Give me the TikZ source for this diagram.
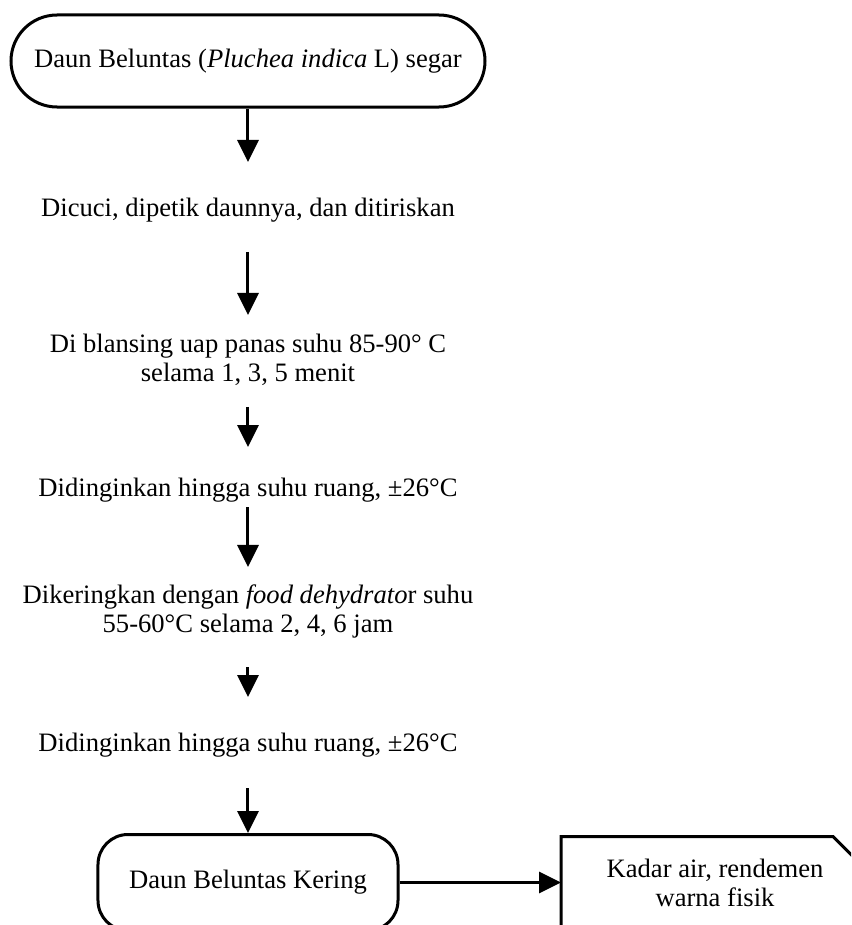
\documentclass[tikz,border=0pt]{standalone}
\usepackage{fontspec}
\setmainfont{Liberation Serif}
\usetikzlibrary{arrows.meta,calc}
\tikzset{
	terminal/.style={
			draw, line width=1.5pt, rounded corners=#1,
			align=center, inner sep=0pt
		},
	langkah/.style={align=center, inner sep=0pt},
	alir/.style={
			line width=1.5pt,
			-{Triangle[length=11pt,width=10.5pt]}
		}
}

\begin{document}
\begin{tikzpicture}[font=\fontsize{13.3pt}{14.5pt}\selectfont]
        \useasboundingbox (0, 0) rectangle (14.955, -16.255);
        \clip (0, 0) rectangle (14.955, -16.255);
        \node[terminal=23pt, minimum width=237pt, minimum height=46pt] (daun_segar) at (4.358, -1.072) {Daun Beluntas (\textit{Pluchea indica} L) segar};
        \node[langkah] (cuci) at (4.358, -3.690) {Dicuci, dipetik daunnya, dan ditiriskan};
        \node[langkah] (blansing) at (4.358, -6.326) {Di blansing uap panas suhu 85-90° C\\selama 1, 3, 5 menit};
        \node[langkah] (dingin_1) at (4.358, -8.611) {Didinginkan hingga suhu ruang, ±26°C};
        \node[langkah] (kering) at (4.358, -10.737) {Dikeringkan dengan \textit{food dehydrato}r suhu\\55-60°C selama 2, 4, 6 jam};
        \node[langkah] (dingin_2) at (4.358, -13.092) {Didinginkan hingga suhu ruang, ±26°C};
        \node[terminal=15pt, minimum width=150pt, minimum height=48pt] (daun_kering) at (4.358, -15.508) {Daun Beluntas Kering};
        \node[langkah, minimum width=154pt, minimum height=46pt, outer sep=0pt] (uji) at (12.565, -15.508) {Kadar air, rendemen\\warna fisik};
        \draw[line width=1.5pt] (uji.south west) -- (uji.north west) -- ($(uji.north east)+(-18pt,0)$) -- ($(uji.north east)+(0,-18pt)$) -- (uji.south east);
        % aliran proses
        \draw[alir, shorten >=24pt] (daun_segar.south) -- (cuci.center);
        \draw[alir, shorten <=21pt, shorten >=22.5pt] (cuci.center) -- (blansing.center);
        \draw[alir, shorten <=23.5pt, shorten >=21.5pt] (blansing.center) -- (dingin_1.center);
        \draw[alir, shorten <=8.5pt, shorten >=22pt] (dingin_1.center) -- (kering.center);
        \draw[alir, shorten <=28pt, shorten >=24pt] (kering.center) -- (dingin_2.center);
        \draw[alir, shorten <=21.5pt] (dingin_2.center) -- (daun_kering.north);
        \draw[alir] (daun_kering) -- (uji);
    \end{tikzpicture}
\end{document}
